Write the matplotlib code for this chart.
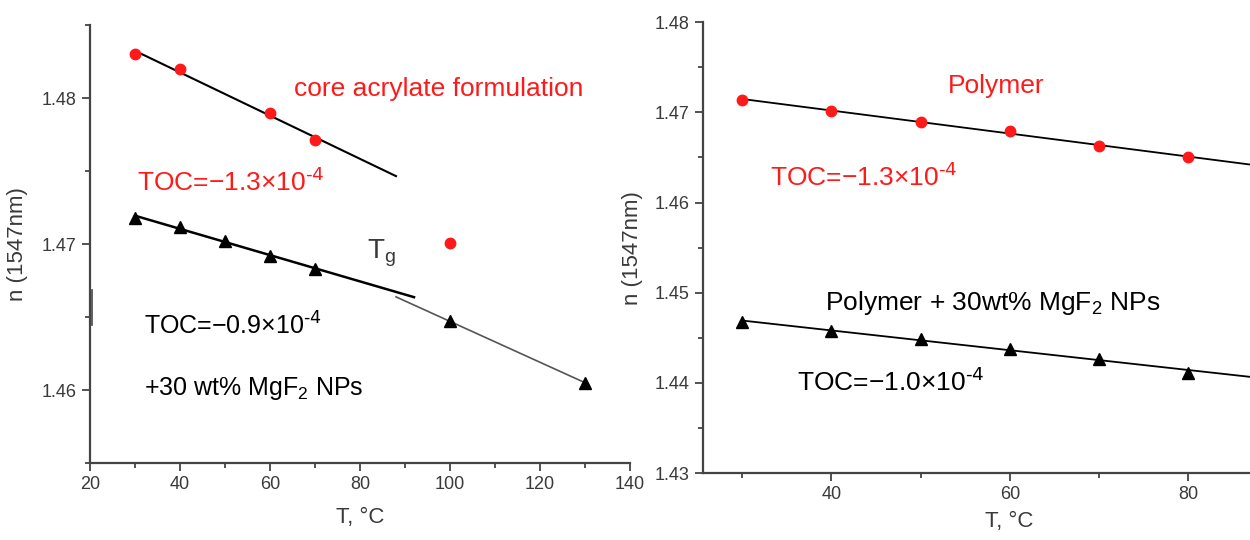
import numpy as np
import matplotlib
matplotlib.use("Agg")
import matplotlib.pyplot as plt
from matplotlib.ticker import MultipleLocator
from matplotlib.lines import Line2D

plt.rcParams['font.family'] = ['Liberation Sans', 'DejaVu Sans']

# left panel: core acrylate formulation
t_core = [30, 40, 60, 70, 100]
n_core = [1.4830, 1.4820, 1.4790, 1.4771, 1.4701]
t_core_mgf = [30, 40, 50, 60, 70, 100, 130]
n_core_mgf = [1.4718, 1.4712, 1.4702, 1.4692, 1.4683, 1.4647, 1.4605]

# right panel: polymer
t_poly = [30, 40, 50, 60, 70, 80]
n_poly = [1.4714, 1.4702, 1.4689, 1.4679, 1.4663, 1.4650]
n_poly_mgf = [1.4467, 1.4458, 1.4449, 1.4438, 1.4427, 1.4411]

RED = '#ff1a1a'
AX = '#444444'
TXT = '#3a3a3a'
SUP = '$^{\\text{-4}}$'


def fitline(ax, x, y, x0, x1, **kw):
    p = np.polyfit(x, y, 1)
    xs = np.array([x0, x1])
    ax.plot(xs, np.polyval(p, xs), **kw)


def style(ax):
    for s in ['top', 'right']:
        ax.spines[s].set_visible(False)
    for s in ['left', 'bottom']:
        ax.spines[s].set_color(AX)
        ax.spines[s].set_linewidth(1.6)
    ax.tick_params(which='major', length=6, width=1.3, color=AX, labelcolor=TXT, labelsize=13)
    ax.tick_params(which='minor', length=3.5, width=1.3, color=AX)
    ax.set_xlabel('T, °C', fontsize=16, color=TXT)
    ax.set_ylabel('n (1547nm)', fontsize=16, color=TXT)
    ax.yaxis.set_major_formatter(plt.FuncFormatter(lambda v, p: f'{v:.2f}'))


fig = plt.figure(figsize=(12.5, 5.4), dpi=100)

ax1 = fig.add_axes([0.072, 0.1426, 0.432, 0.811])
ax1.plot(t_core, n_core, 'o', color=RED, ms=7.5, zorder=3)
fitline(ax1, t_core[:4], n_core[:4], 30, 88, color='black', lw=1.5)
ax1.plot(t_core_mgf, n_core_mgf, '^', color='black', ms=8, zorder=3)
fitline(ax1, t_core_mgf[:5], n_core_mgf[:5], 30, 92, color='black', lw=1.8)
fitline(ax1, t_core_mgf[5:], n_core_mgf[5:], 88, 130, color='#555555', lw=1.2)
ax1.set_xlim(20, 140)
ax1.set_ylim(1.455, 1.485)
ax1.xaxis.set_major_locator(MultipleLocator(20))
ax1.xaxis.set_minor_locator(MultipleLocator(10))
ax1.yaxis.set_major_locator(MultipleLocator(0.01))
ax1.yaxis.set_minor_locator(MultipleLocator(0.005))
style(ax1)
ax1.xaxis.set_label_coords(0.5, -0.1)
ax1.yaxis.set_label_coords(-0.115, 0.5)
ax1.text(97.5, 1.4806, 'core acrylate formulation', color=RED, fontsize=19, ha='center', va='center')
ax1.text(30.5, 1.4743, 'TOC=−1.3×10' + SUP, color=RED, fontsize=19, ha='left', va='center')
ax1.text(81.5, 1.4694, 'T$_\\mathregular{g}$', color=TXT, fontsize=20, ha='left', va='center')
ax1.text(32, 1.4644, 'TOC=−0.9×10' + SUP, color='black', fontsize=18, ha='left', va='center')
ax1.text(32, 1.4601, '+30 wt% MgF$_\\mathregular{2}$ NPs', color='black', fontsize=18, ha='left', va='center')

ax2 = fig.add_axes([0.5624, 0.124, 0.4376, 0.835])
ax2.plot(t_poly, n_poly, 'o', color=RED, ms=7.5, zorder=3)
fitline(ax2, t_poly, n_poly, 30, 90, color='black', lw=1.3)
ax2.plot(t_poly, n_poly_mgf, '^', color='black', ms=8, zorder=3)
fitline(ax2, t_poly, n_poly_mgf, 30, 90, color='black', lw=1.3)
ax2.set_xlim(25.6, 86.9)
ax2.set_ylim(1.43, 1.48)
ax2.xaxis.set_major_locator(MultipleLocator(20))
ax2.xaxis.set_minor_locator(MultipleLocator(10))
ax2.yaxis.set_major_locator(MultipleLocator(0.01))
ax2.yaxis.set_minor_locator(MultipleLocator(0.005))
style(ax2)
ax2.xaxis.set_label_coords(0.56, -0.085)
ax2.yaxis.set_label_coords(-0.11, 0.5)
ax2.text(58.5, 1.4729, 'Polymer', color=RED, fontsize=19, ha='center', va='center')
ax2.text(33.1, 1.4629, 'TOC=−1.3×10' + SUP, color=RED, fontsize=19, ha='left', va='center')
ax2.text(39.3, 1.4489, 'Polymer + 30wt% MgF$_\\mathregular{2}$ NPs', color='black', fontsize=19, ha='left', va='center')
ax2.text(36.1, 1.4401, 'TOC=−1.0×10' + SUP, color='black', fontsize=19, ha='left', va='center')

# small stray mark next to the left axis in the original figure
fig.add_artist(Line2D([0.0736, 0.0736], [0.398, 0.463], color=AX, lw=1.2))

fig.savefig('out.png', dpi=100)
